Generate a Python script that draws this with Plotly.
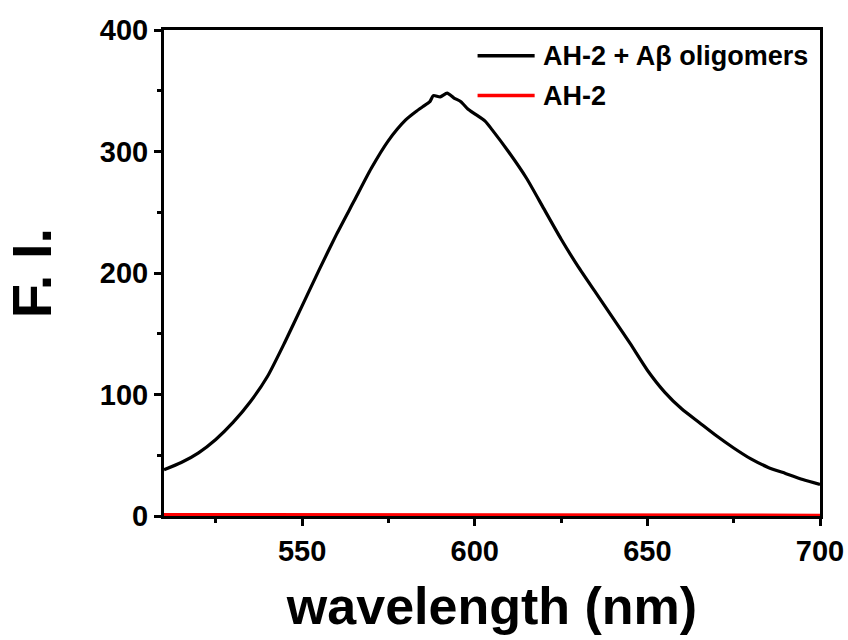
import plotly.graph_objects as go

wavelength = [510, 515, 520, 525, 530, 535, 540, 545, 550, 555, 560, 565, 570, 575,
              580, 583, 585, 587, 588, 590, 592, 594, 596, 598, 600, 603, 605, 610,
              615, 620, 625, 630, 635, 640, 645, 650, 655, 660, 665, 670, 675, 680,
              685, 690, 695, 700]
fi_oligomers = [38, 44, 52, 63, 77, 94, 115, 143, 173, 203, 232, 259, 286, 309,
                326, 333, 337, 341, 346, 345, 348, 344, 341, 335, 331, 325, 318, 299,
                278, 253, 228, 205, 184, 163, 142, 120, 102, 88, 77, 66, 56, 47,
                40, 35, 30, 26]
wavelength_ah2 = [510, 550, 600, 650, 673, 700]
fi_ah2 = [1, 1, 1, 1, 0.5, 0.5]

names = ["AH-2 + A\u03b2 oligomers", "AH-2"]
colors = ["#000000", "#ff0000"]

fig = go.Figure()
fig.add_trace(go.Scatter(x=wavelength, y=fi_oligomers, mode="lines", name=names[0],
                         line=dict(color=colors[0], width=3.2, shape="spline", smoothing=0.6),
                         showlegend=False))
fig.add_trace(go.Scatter(x=wavelength_ah2, y=fi_ah2, mode="lines", name=names[1],
                         line=dict(color=colors[1], width=3.5), cliponaxis=False,
                         showlegend=False))

font_family = "Liberation Sans, Arial, sans-serif"

# manual legend (longer line samples as in the original)
legend_y = [0.947, 0.865]
for name, color, ly in zip(names, colors, legend_y):
    fig.add_shape(type="line", xref="paper", yref="paper",
                  x0=0.478, x1=0.565, y0=ly, y1=ly,
                  line=dict(color=color, width=3.5))
    fig.add_annotation(xref="paper", yref="paper", x=0.574, y=ly,
                       xanchor="left", yanchor="middle", showarrow=False,
                       text=f"<b>{name}</b>",
                       font=dict(family=font_family, size=27, color="black"))

axis_common = dict(
    showline=True, linecolor="black", linewidth=3, mirror=True,
    ticks="outside", ticklen=7, tickwidth=3, tickcolor="black",
    showgrid=False, zeroline=False, automargin=False,
    tickfont=dict(family=font_family, size=29, color="black", weight="bold"),
)

fig.update_layout(
    width=848, height=640,
    margin=dict(l=164, r=28, t=30, b=124),
    paper_bgcolor="white", plot_bgcolor="white",
    font=dict(family=font_family, color="black"),
    xaxis=dict(range=[510, 700], tickvals=[550, 600, 650, 700],
               minor=dict(tickvals=[525, 575, 625, 675], ticks="outside", ticklen=4,
                          tickwidth=3, tickcolor="black"),
               title=dict(text="wavelength (nm)", standoff=22,
                          font=dict(family=font_family, size=52, weight="bold")),
               **axis_common),
    yaxis=dict(range=[0, 400], tickvals=[0, 100, 200, 300, 400],
               minor=dict(tickvals=[50, 150, 250, 350], ticks="outside", ticklen=4,
                          tickwidth=3, tickcolor="black"),
               title=dict(text="F. I.", standoff=33,
                          font=dict(family=font_family, size=56, weight="bold")),
               **axis_common),
    showlegend=False,
)

fig.write_html("out.html")
